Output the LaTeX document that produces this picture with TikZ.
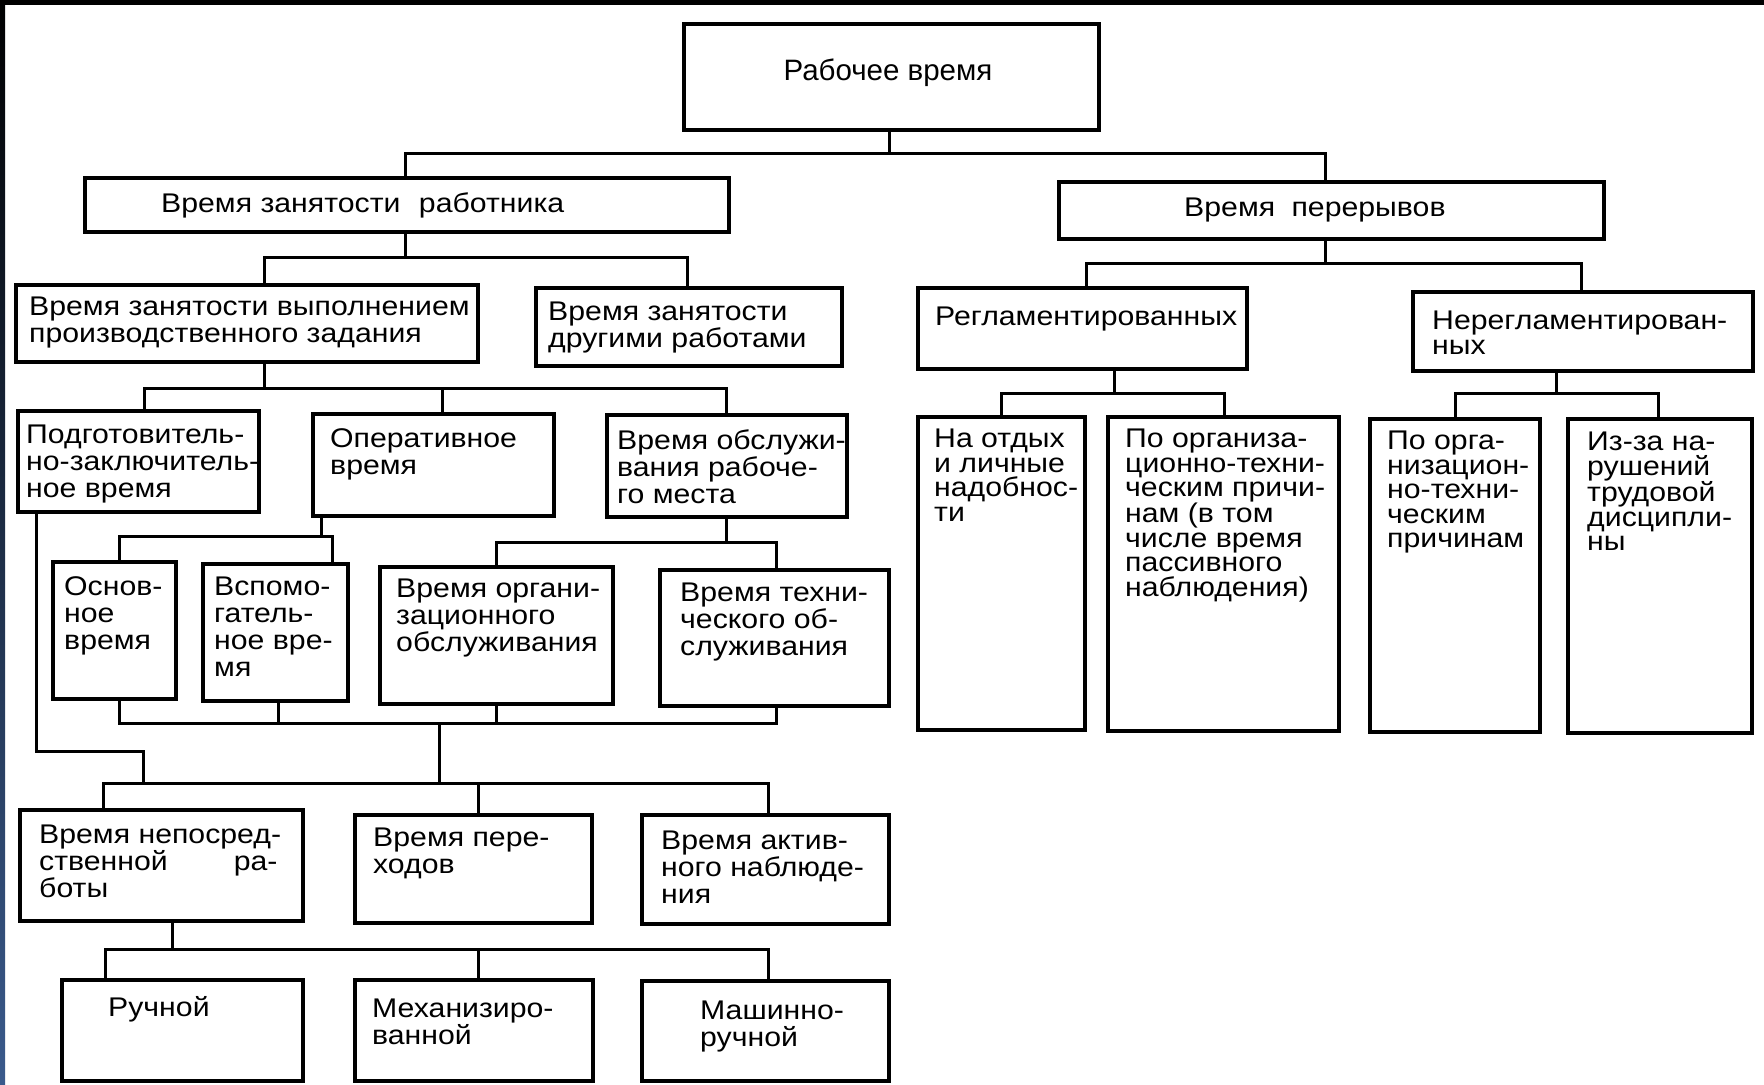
\documentclass[tikz,border=0pt]{standalone}
\usepackage{fontspec}
\setmainfont{Liberation Sans}
\newfontfamily\widefont[FakeStretch=1.12]{Liberation Sans}
\definecolor{stripblue}{HTML}{3A5A8C}
\newcommand\mybox[5]{\node[box, minimum width={(#4-#2)*1bp}, minimum height={(#5-#3)*1bp}] (#1) at (#2,#3) {};}
\newcommand\mytxt[4]{\node[txt] (#1) at (#2,#3) {#4};}
\newcommand\mytxtb[4]{\node[txtb] (#1) at (#2,#3) {#4};}
\begin{document}
\begin{tikzpicture}[x=1bp,y=-1bp,
  box/.style={draw, line width=4bp, inner sep=0pt, outer sep=0pt, anchor=north west},
  txt/.style={inner sep=0pt, anchor=north west, align=left, font=\widefont\fontsize{27bp}{27bp}\selectfont},
  txtb/.style={txt, font=\widefont\fontsize{27bp}{24.5bp}\selectfont},
  conn/.style={line width=3bp}]
\fill[white] (0,0) rectangle (1764,1084);
\useasboundingbox (0,0) rectangle (1764,1084);
\fill[black] (0,0) rectangle (1764,5);
\shade[top color=black, bottom color=stripblue] (0,0) rectangle (5,1084);
% boxes
\mybox{R}{684}{24}{1099}{130}
\mybox{A}{85}{178}{729}{232}
\mybox{B}{1059}{182}{1604}{239}
\mybox{A1}{16}{285}{478}{362}
\mybox{A2}{536}{288}{842}{366}
\mybox{B1}{918}{288}{1247}{369}
\mybox{B2}{1413}{292}{1753}{371}
\mybox{C1}{18}{411}{259}{512}
\mybox{C2}{313}{414}{554}{516}
\mybox{C3}{607}{415}{847}{517}
\mybox{B1a}{918}{417}{1085}{730}
\mybox{B1b}{1108}{417}{1339}{731}
\mybox{B2a}{1370}{419}{1540}{732}
\mybox{B2b}{1568}{419}{1752}{733}
\mybox{D1}{53}{562}{176}{699}
\mybox{D2}{203}{564}{348}{701}
\mybox{D3}{380}{567}{613}{704}
\mybox{D4}{660}{570}{889}{706}
\mybox{E1}{20}{810}{303}{921}
\mybox{E2}{355}{815}{592}{923}
\mybox{E3}{642}{815}{889}{924}
\mybox{F1}{62}{980}{303}{1081}
\mybox{F2}{355}{980}{593}{1081}
\mybox{F3}{642}{981}{889}{1081}
% texts
\node[inner sep=0pt, anchor=base, font=\fontsize{29.5bp}{30bp}\selectfont] (Rt) at (888,80) {Рабочее время};
\node[txt, anchor=base west] (At) at (161,212) {Время занятости\hspace{10bp} работника};
\node[txt, anchor=base west] (Bt) at (1184,216) {Время\hspace{8bp} перерывов};
\node[txt, anchor=base west] (B1t) at (935,325) {Регламентированных};
\mytxtb{B2t}{1432}{311}{Нерегламентирован-\\ных}
\mytxt{A1t}{29}{297}{Время занятости выполнением\\производственного задания}
\mytxt{A2t}{548}{302}{Время занятости\\другими работами}
\mytxt{C1t}{26}{425}{Подготовитель-\\но-заключитель-\\ное время}
\mytxt{C2t}{330}{428}{Оперативное\\время}
\mytxt{C3t}{617}{429}{Время обслужи-\\вания рабоче-\\го места}
\mytxtb{B1at}{934}{429}{На отдых\\и личные\\надобнос-\\ти}
\mytxtb{B1bt}{1125}{429}{По организа-\\ционно-техни-\\ческим причи-\\нам (в том\\числе время\\пассивного\\наблюдения)}
\mytxtb{B2at}{1387}{431}{По орга-\\низацион-\\но-техни-\\ческим\\причинам}
\mytxtb{B2bt}{1587}{432}{Из-за на-\\рушений\\трудовой\\дисципли-\\ны}
\mytxt{D1t}{64}{576}{Основ-\\ное\\время}
\mytxt{D2t}{214}{577}{Вспомо-\\гатель-\\ное вре-\\мя}
\mytxt{D3t}{396}{579}{Время органи-\\зационного\\обслуживания}
\mytxt{D4t}{680}{583}{Время техни-\\ческого об-\\служивания}
\mytxt{E1t}{39}{825}{Время непосред-\\ственной\hspace{66bp}ра-\\боты}
\mytxt{E2t}{373}{828}{Время пере-\\ходов}
\mytxt{E3t}{661}{831}{Время актив-\\ного наблюде-\\ния}
\mytxt{F1t}{108}{996}{Ручной}
\mytxt{F2t}{372}{999}{Механизиро-\\ванной}
\mytxt{F3t}{700}{1001}{Машинно-\\ручной}
% junctions
\coordinate (j0) at (889,153); \coordinate (jA) at (405,153); \coordinate (jB) at (1325,153);
\coordinate (k0) at (405,257); \coordinate (kA1) at (264,257); \coordinate (kA2) at (687,257);
\coordinate (m0) at (1325,263); \coordinate (mB1) at (1086,263); \coordinate (mB2) at (1581,263);
\coordinate (n0) at (1114,393); \coordinate (nB1a) at (1001,393); \coordinate (nB1b) at (1224,393);
\coordinate (p0) at (1556,393); \coordinate (pB2a) at (1455,393); \coordinate (pB2b) at (1658,393);
\coordinate (q0) at (264,388); \coordinate (qC1) at (144,388); \coordinate (qC2) at (442,388); \coordinate (qC3) at (726,388);
\coordinate (r0) at (321,536); \coordinate (rD1) at (119,536); \coordinate (rD2) at (332,536);
\coordinate (s0) at (726,542); \coordinate (sD3) at (496,542); \coordinate (sD4) at (776,542);
\coordinate (tD1) at (119,723); \coordinate (tD2) at (278,723); \coordinate (tD3) at (496,723); \coordinate (tD4) at (776,723); \coordinate (t0) at (439,723);
\coordinate (u0) at (439,783); \coordinate (uE1) at (103,783); \coordinate (uE2) at (478,783); \coordinate (uE3) at (768,783);
\coordinate (v1) at (36,751); \coordinate (v2) at (143,751); \coordinate (u1) at (143,783);
\coordinate (w0) at (172,949); \coordinate (wF1) at (105,949); \coordinate (wF2) at (478,949); \coordinate (wF3) at (768,949);
% connectors
\draw[conn] (R.south -| j0) -- (j0);
\draw[conn] (A.north -| jA) -- (jA) -- (jB) -- (B.north -| jB);
\draw[conn] (A.south -| k0) -- (k0);
\draw[conn] (A1.north -| kA1) -- (kA1) -- (kA2) -- (A2.north -| kA2);
\draw[conn] (B.south -| m0) -- (m0);
\draw[conn] (B1.north -| mB1) -- (mB1) -- (mB2) -- (B2.north -| mB2);
\draw[conn] (B1.south -| n0) -- (n0);
\draw[conn] (B1a.north -| nB1a) -- (nB1a) -- (nB1b) -- (B1b.north -| nB1b);
\draw[conn] (B2.south -| p0) -- (p0);
\draw[conn] (B2a.north -| pB2a) -- (pB2a) -- (pB2b) -- (B2b.north -| pB2b);
\draw[conn] (A1.south -| q0) -- (q0);
\draw[conn] (C1.north -| qC1) -- (qC1) -- (qC3) -- (C3.north -| qC3);
\draw[conn] (C2.north -| qC2) -- (qC2);
\draw[conn] (C2.south -| r0) -- (r0);
\draw[conn] (D1.north -| rD1) -- (rD1) -- (rD2) -- (D2.north -| rD2);
\draw[conn] (C3.south -| s0) -- (s0);
\draw[conn] (D3.north -| sD3) -- (sD3) -- (sD4) -- (D4.north -| sD4);
\draw[conn] (D1.south -| tD1) -- (tD1) -- (tD4) -- (D4.south -| tD4);
\draw[conn] (D2.south -| tD2) -- (tD2);
\draw[conn] (D3.south -| tD3) -- (tD3);
\draw[conn] (t0) -- (u0);
\draw[conn] (C1.south -| v1) -- (v1) -- (v2) -- (u1);
\draw[conn] (E1.north -| uE1) -- (uE1) -- (uE3) -- (E3.north -| uE3);
\draw[conn] (E2.north -| uE2) -- (uE2);
\draw[conn] (E1.south -| w0) -- (w0);
\draw[conn] (F1.north -| wF1) -- (wF1) -- (wF3) -- (F3.north -| wF3);
\draw[conn] (F2.north -| wF2) -- (wF2);
\end{tikzpicture}
\end{document}
